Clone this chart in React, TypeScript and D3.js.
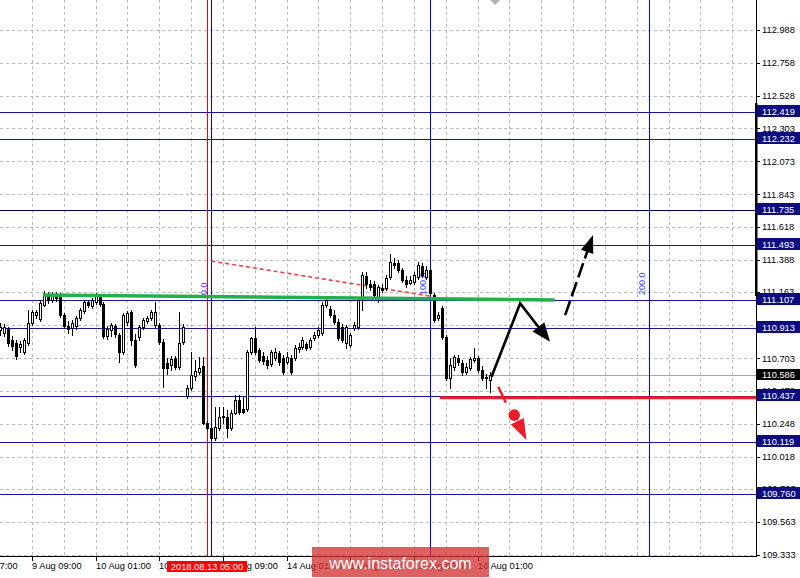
import React from 'react';
import * as d3 from 'd3';

// ---------- data ----------
const priceTicks = [112.988, 112.758, 112.528, 112.303, 112.073, 111.843, 111.618, 111.388, 111.163, 110.933, 110.703, 110.478, 110.248, 110.018, 109.793, 109.563, 109.333];
const timeLabelBars = [-8, 8, 24, 40, 56, 72, 88, 104, 120];
const timeLabels = ['8 Aug 17:00', '9 Aug 09:00', '10 Aug 01:00', '10 Aug 17:00', '13 Aug 09:00', '14 Aug 01:00', '14 Aug 17:00', '15 Aug 09:00', '16 Aug 01:00'];
const levelPrices = [112.419, 112.232, 111.735, 111.493, 111.107, 110.913, 110.437, 110.119, 109.760];
const lastPrice = 110.586;

const opens = [110.899, 110.878, 110.906, 110.830, 110.809, 110.781, 110.746, 110.809, 110.948, 111.004, 110.976, 111.073, 111.150, 111.108, 111.143, 111.129, 111.004, 110.927, 110.913, 110.927, 110.983, 111.031, 111.094, 111.066, 111.094, 111.136, 111.080, 110.857, 110.899, 110.927, 110.864, 110.746, 110.955, 111.024, 110.830, 110.850, 110.920, 110.962, 110.983, 110.934, 110.934, 110.816, 110.669, 110.655, 110.704, 110.642, 110.816, 110.440, 110.495, 110.579, 110.607, 110.648, 110.252, 110.217, 110.147, 110.217, 110.293, 110.293, 110.217, 110.321, 110.412, 110.349, 110.349, 110.746, 110.843, 110.760, 110.718, 110.690, 110.662, 110.704, 110.739, 110.704, 110.676, 110.704, 110.704, 110.767, 110.781, 110.802, 110.781, 110.843, 110.864, 110.878, 111.073, 111.045, 111.004, 110.955, 110.920, 110.809, 110.795, 110.913, 110.920, 111.122, 111.275, 111.219, 111.219, 111.129, 111.192, 111.192, 111.268, 111.365, 111.365, 111.317, 111.247, 111.226, 111.233, 111.268, 111.345, 111.268, 111.317, 111.143, 110.983, 111.052, 110.850, 110.565, 110.642, 110.704, 110.669, 110.607, 110.635, 110.690, 110.704, 110.621, 110.572, 110.551];
const highs = [110.948, 110.941, 110.920, 110.857, 110.830, 110.823, 110.843, 111.038, 111.038, 111.038, 111.108, 111.171, 111.164, 111.164, 111.164, 111.157, 111.018, 110.962, 110.969, 110.997, 111.052, 111.108, 111.108, 111.122, 111.157, 111.150, 111.094, 110.927, 110.948, 110.941, 110.878, 111.018, 111.031, 111.038, 110.871, 110.934, 110.983, 110.997, 111.038, 111.094, 110.948, 110.836, 110.704, 110.718, 110.718, 111.024, 110.941, 110.516, 110.746, 110.690, 110.711, 110.711, 110.266, 110.231, 110.363, 110.363, 110.363, 110.342, 110.342, 110.447, 110.447, 110.433, 110.760, 110.850, 110.920, 110.774, 110.746, 110.718, 110.760, 110.774, 110.753, 110.725, 110.746, 110.725, 110.795, 110.809, 110.850, 110.816, 110.843, 110.885, 110.920, 111.094, 111.122, 111.066, 111.038, 110.976, 110.941, 110.934, 110.878, 110.955, 111.122, 111.303, 111.303, 111.247, 111.240, 111.212, 111.219, 111.282, 111.428, 111.400, 111.386, 111.331, 111.275, 111.275, 111.303, 111.372, 111.365, 111.345, 111.331, 111.157, 111.024, 111.066, 110.864, 110.704, 110.725, 110.725, 110.690, 110.669, 110.711, 110.774, 110.718, 110.648, 110.593, 110.607];
const lows = [110.864, 110.857, 110.788, 110.760, 110.697, 110.746, 110.732, 110.795, 110.934, 110.983, 110.962, 111.066, 111.087, 111.094, 111.101, 110.990, 110.913, 110.878, 110.864, 110.906, 110.969, 111.018, 111.059, 111.052, 111.080, 111.066, 110.843, 110.836, 110.857, 110.850, 110.676, 110.732, 110.934, 110.795, 110.642, 110.830, 110.906, 110.948, 110.969, 110.920, 110.802, 110.502, 110.593, 110.621, 110.628, 110.628, 110.802, 110.426, 110.482, 110.551, 110.593, 110.245, 110.203, 110.133, 110.133, 110.203, 110.252, 110.154, 110.203, 110.314, 110.314, 110.321, 110.335, 110.732, 110.732, 110.676, 110.662, 110.635, 110.648, 110.690, 110.655, 110.593, 110.662, 110.593, 110.690, 110.746, 110.767, 110.760, 110.767, 110.830, 110.850, 110.864, 111.059, 110.990, 110.941, 110.830, 110.816, 110.774, 110.781, 110.899, 110.906, 111.038, 111.192, 111.178, 111.129, 111.094, 111.164, 111.178, 111.254, 111.331, 111.303, 111.233, 111.198, 111.219, 111.219, 111.254, 111.268, 111.254, 111.143, 110.955, 110.969, 110.836, 110.551, 110.495, 110.621, 110.655, 110.586, 110.593, 110.621, 110.676, 110.607, 110.551, 110.495, 110.468];
const closes = [110.920, 110.920, 110.809, 110.788, 110.718, 110.802, 110.830, 110.948, 111.024, 111.024, 111.087, 111.150, 111.108, 111.143, 111.122, 111.004, 110.927, 110.906, 110.948, 110.983, 111.038, 111.094, 111.073, 111.108, 111.136, 111.080, 110.857, 110.906, 110.934, 110.871, 110.746, 111.004, 111.018, 110.830, 110.655, 110.920, 110.969, 110.983, 111.024, 111.024, 110.816, 110.635, 110.635, 110.697, 110.642, 110.809, 110.920, 110.495, 110.586, 110.614, 110.635, 110.252, 110.217, 110.147, 110.224, 110.293, 110.300, 110.217, 110.321, 110.412, 110.328, 110.328, 110.746, 110.843, 110.746, 110.690, 110.683, 110.655, 110.746, 110.746, 110.676, 110.607, 110.711, 110.607, 110.774, 110.781, 110.830, 110.774, 110.830, 110.864, 110.899, 111.073, 111.108, 111.004, 110.955, 110.843, 110.830, 110.920, 110.864, 110.934, 111.108, 111.282, 111.219, 111.198, 111.143, 111.198, 111.178, 111.261, 111.372, 111.352, 111.317, 111.247, 111.219, 111.247, 111.282, 111.352, 111.282, 111.317, 111.157, 110.969, 111.004, 110.850, 110.565, 110.655, 110.711, 110.676, 110.607, 110.642, 110.697, 110.704, 110.621, 110.565, 110.565, 110.586];

const fiboBars = [53, 108, 163];
const fiboLabels = ['0.0', '100.0', '200.0'];
const cursorBar = 52;
const cursorLabel = '2018.08.13 05:00';
const greenBars = [10.8, 139.4];
const greenPrices = [111.143, 111.108];
const redTrendBars = [53.1, 108.0];
const redTrendPrices = [111.379, 111.136];
const redLevelBars = [110.5, 190];
const redLevelPrice = 110.428;
const upBars = [123.5, 130.7, 138.2];
const upPrices = [110.574, 111.085, 110.817];
const dashUpBars = [142, 149];
const dashUpPrices = [111.003, 111.561];
const redDownBars = [125.2, 127.1, 129.2, 132.3];
const redDownPrices = [110.504, 110.393, 110.307, 110.133];
const shiftMarkerBar = 124.4;
const watermark = 'www.instaforex.com';

// ---------- layout ----------
const W = 800;
const H = 578;
const PR = 756; // plot right
const PB = 556; // plot bottom
const FONT = "'Liberation Sans', Arial, sans-serif";

const x = d3.scaleLinear().domain([0, 190]).range([0, 756.2]);
const y = d3.scaleLinear().domain([109.333, 112.988]).range([555, 30]);

function head(tipX: number, tipY: number, fromX: number, fromY: number, L: number, Wd: number) {
  const dx = tipX - fromX, dy = tipY - fromY;
  const len = Math.hypot(dx, dy);
  const ux = dx / len, uy = dy / len;
  const bx = tipX - ux * L, by = tipY - uy * L;
  const px = -uy, py = ux;
  return `${tipX},${tipY} ${bx + px * Wd},${by + py * Wd} ${bx - px * Wd},${by - py * Wd}`;
}

export default function App() {
  const gridXs = d3.range(1, 24).map((k) => Math.round(x(k * 8)) + 0.5);
  const line = d3.line<[number, number]>();

  const upPts: [number, number][] = upBars.map((b, i) => [x(b), y(upPrices[i])]);
  const dPts: [number, number][] = dashUpBars.map((b, i) => [x(b), y(dashUpPrices[i])]);
  const rPts: [number, number][] = redDownBars.map((b, i) => [x(b), y(redDownPrices[i])]);

  // shorten the shafts so they end inside the heads
  const shaftEnd = (a: [number, number], b: [number, number], cut: number): [number, number] => {
    const dx = b[0] - a[0], dy = b[1] - a[1];
    const l = Math.hypot(dx, dy);
    return [b[0] - (dx / l) * cut, b[1] - (dy / l) * cut];
  };

  return (
    <svg width={W} height={H} style={{ position: 'absolute', left: 0, top: 0, background: '#fff' }} fontFamily={FONT}>
      <rect x={0} y={0} width={W} height={H} fill="#ffffff" />
      {/* grid */}
      <g stroke="#b8b8b8" strokeWidth={1} strokeDasharray="3,3" shapeRendering="crispEdges">
        {gridXs.map((gx, i) => (
          <line key={'gx' + i} x1={gx} x2={gx} y1={0} y2={PB} />
        ))}
        {priceTicks.map((p, i) => (
          <line key={'gy' + i} x1={0} x2={PR} y1={Math.round(y(p)) + 0.5} y2={Math.round(y(p)) + 0.5} />
        ))}
      </g>

      {/* current price line */}
      <line x1={0} x2={PR} y1={Math.round(y(lastPrice)) + 0.5} y2={Math.round(y(lastPrice)) + 0.5} stroke="#a8a8a8" strokeWidth={1} shapeRendering="crispEdges" />

      {/* horizontal levels */}
      {levelPrices.map((p, i) => (
        <line key={'lv' + i} x1={0} x2={PR} y1={Math.round(y(p)) + 0.5} y2={Math.round(y(p)) + 0.5}
          stroke={p === 111.735 ? '#000058' : '#16169a'} strokeWidth={1} shapeRendering="crispEdges" />
      ))}

      {/* vertical cursor + fibo time zones */}
      <line x1={Math.round(x(cursorBar)) + 0.5} x2={Math.round(x(cursorBar)) + 0.5} y1={0} y2={PB} stroke="#ff0000" strokeWidth={1} shapeRendering="crispEdges" />
      {fiboBars.map((b, i) => (
        <g key={'fb' + i}>
          <line x1={Math.round(x(b)) + 0.5} x2={Math.round(x(b)) + 0.5} y1={0} y2={PB} stroke="#0000ff" strokeWidth={1} shapeRendering="crispEdges" />
          <text transform={`translate(${Math.round(x(b)) - 4},295) rotate(-90)`} fontSize={9} fill="#3a3aff">{fiboLabels[i]}</text>
        </g>
      ))}

      {/* red dotted trend line */}
      <line x1={x(redTrendBars[0])} y1={y(redTrendPrices[0])} x2={x(redTrendBars[1])} y2={y(redTrendPrices[1])}
        stroke="#f04040" strokeWidth={1.6} strokeDasharray="4,3" />

      {/* candles */}
      <g shapeRendering="crispEdges">
        {opens.map((o, i) => {
          const cx = Math.round(x(i));
          const c = closes[i];
          const yh = Math.round(y(highs[i]));
          const yl = Math.round(y(lows[i]));
          const yo = Math.round(y(o));
          const yc = Math.round(y(c));
          const top = Math.min(yo, yc);
          const bot = Math.max(yo, yc);
          const bull = c >= o;
          return (
            <g key={'c' + i}>
              <rect x={cx} y={yh} width={1} height={Math.max(1, yl - yh + 1)} fill="#000" />
              <rect x={cx - 1} y={top} width={3} height={Math.max(1, bot - top + 1)} fill="#000" />
              {bull && bot - top >= 2 && <rect x={cx} y={top + 1} width={1} height={bot - top - 1} fill="#fff" />}
            </g>
          );
        })}
      </g>

      {/* green line */}
      <line x1={x(greenBars[0])} y1={y(greenPrices[0])} x2={x(greenBars[1])} y2={y(greenPrices[1])} stroke="#22b04a" strokeWidth={3.5} />

      {/* red support line */}
      <line x1={x(redLevelBars[0])} x2={Math.min(PR, x(redLevelBars[1]))} y1={y(redLevelPrice)} y2={y(redLevelPrice)} stroke="#ec1c2a" strokeWidth={3} />

      {/* black solid arrow */}
      <path d={line([upPts[0], upPts[1], shaftEnd(upPts[1], upPts[2], 10)]) || ''} fill="none" stroke="#000" strokeWidth={2.6} strokeLinejoin="miter" />
      <polygon points={head(upPts[2][0], upPts[2][1], upPts[1][0], upPts[1][1], 19, 7.5)} fill="#000" />

      {/* black dashed arrow */}
      <path d={line([dPts[0], shaftEnd(dPts[0], dPts[1], 12)]) || ''} fill="none" stroke="#000" strokeWidth={2.6} strokeDasharray="15,5" />
      <polygon points={head(dPts[1][0], dPts[1][1], dPts[0][0], dPts[0][1], 18, 6.5)} fill="#000" />

      {/* red dashed arrow */}
      <line x1={rPts[0][0]} y1={rPts[0][1]} x2={rPts[1][0]} y2={rPts[1][1]} stroke="#ec1c2a" strokeWidth={2.4} />
      <circle cx={rPts[2][0]} cy={rPts[2][1]} r={5.8} fill="#ec1c2a" />
      <polygon points={head(rPts[3][0], rPts[3][1], rPts[2][0], rPts[2][1], 21, 7.2)} fill="#ec1c2a" />

      {/* shift marker */}
      <polygon points={`${x(shiftMarkerBar) - 5},0 ${x(shiftMarkerBar) + 5},0 ${x(shiftMarkerBar)},5`} fill="#b4b4b4" />

      {/* axes */}
      <rect x={PR + 1} y={PB - 556 + 0} width={W - PR - 1} height={H} fill="#fff" />
      <rect x={0} y={PB + 1} width={W} height={H - PB - 1} fill="#fff" />
      <line x1={PR + 0.5} x2={PR + 0.5} y1={0} y2={PB + 1} stroke="#000" strokeWidth={1} shapeRendering="crispEdges" />
      <line x1={0} x2={PR + 1} y1={PB + 0.5} y2={PB + 0.5} stroke="#000" strokeWidth={1} shapeRendering="crispEdges" />
      <rect x={PR - 1} y={103} width={2.5} height={193} fill="#000" />

      {/* price ticks */}
      {priceTicks.map((p, i) => (
        <g key={'pt' + i}>
          <line x1={PR + 1} x2={PR + 4} y1={Math.round(y(p)) + 0.5} y2={Math.round(y(p)) + 0.5} stroke="#000" shapeRendering="crispEdges" />
          <text x={762} y={y(p) + 3.3} fontSize={9.3} fill="#000">{p.toFixed(3)}</text>
        </g>
      ))}

      {/* level labels */}
      {levelPrices.map((p, i) => (
        <g key={'ll' + i}>
          <rect x={757} y={Math.round(y(p)) - 7} width={43} height={12} fill="#0c0c80" />
          <text x={762} y={Math.round(y(p)) + 2.5} fontSize={9.3} fill="#fff">{p.toFixed(3)}</text>
        </g>
      ))}
      <g>
        <rect x={757} y={Math.round(y(lastPrice)) - 6} width={43} height={11} fill="#000" />
        <text x={762} y={Math.round(y(lastPrice)) + 3} fontSize={9.3} fill="#fff">{lastPrice.toFixed(3)}</text>
      </g>

      {/* time ticks */}
      {timeLabelBars.map((b, i) => (
        <g key={'tl' + i}>
          <line x1={Math.round(x(b)) + 0.5} x2={Math.round(x(b)) + 0.5} y1={PB} y2={PB + 5} stroke="#000" shapeRendering="crispEdges" />
          <text x={Math.round(x(b))} y={569} fontSize={9.3} fill="#000">{timeLabels[i]}</text>
        </g>
      ))}
      <rect x={Math.round(x(cursorBar)) - 40} y={561} width={80} height={11} fill="#ff0000" />
      <text x={Math.round(x(cursorBar))} y={569.5} fontSize={9.3} fill="#fff" textAnchor="middle">{cursorLabel}</text>

      {/* watermark */}
      <rect x={312} y={547} width={177} height={30} fill="rgb(212,52,52)" opacity={0.78} />
      <text x={400.5} y={568.5} fontSize={16} fill="#fff" textAnchor="middle">{watermark}</text>
    </svg>
  );
}
